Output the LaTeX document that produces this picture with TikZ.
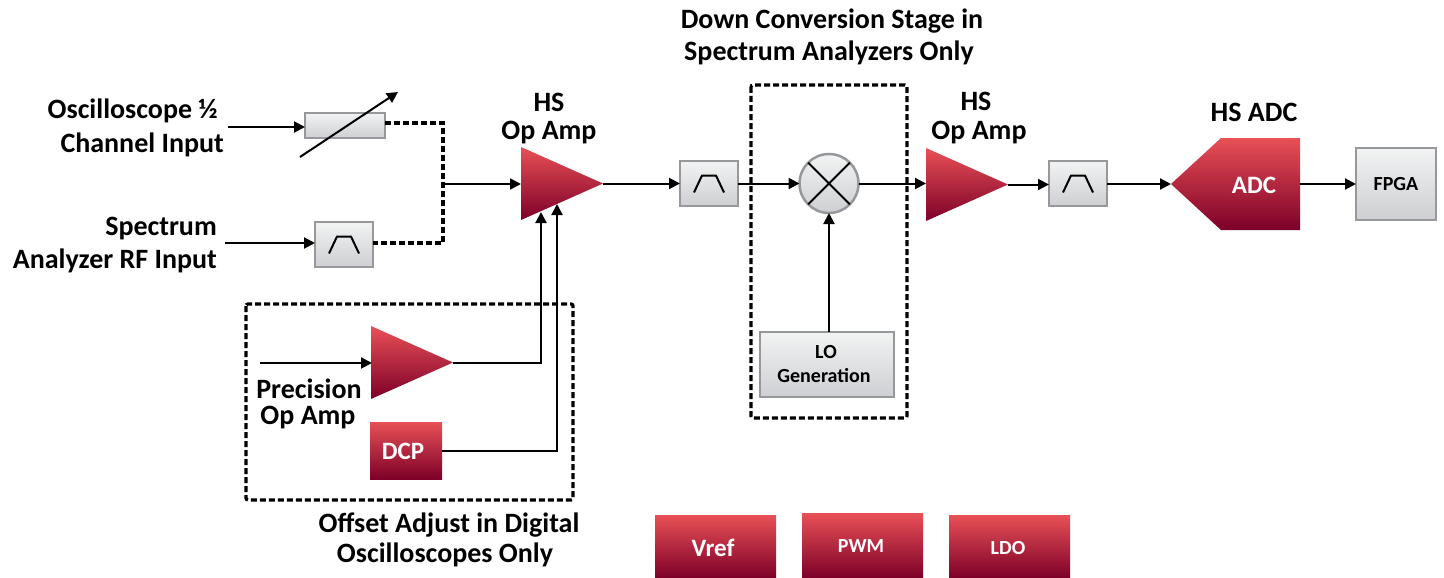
\documentclass[tikz,border=0pt]{standalone}
\usepackage{fontspec}
\setmainfont{Carlito}
\usetikzlibrary{arrows.meta,shapes.geometric}
\definecolor{redT}{RGB}{232,80,86}
\definecolor{redB}{RGB}{125,0,40}
\definecolor{grayT}{RGB}{242,243,243}
\definecolor{grayB}{RGB}{205,207,210}
\definecolor{grayE}{RGB}{150,152,156}
\tikzset{
  x=1pt,y=-1pt,
  wire/.style={line width=2pt,black},
  arr/.style={wire,-{Triangle[length=11pt,width=11pt]}},
  dashline/.style={line width=3.2pt,black,dash pattern=on 6pt off 3pt},
  dashbox/.style={dashline,rounded corners=2pt},
  label/.style={font=\fontsize{28}{32}\selectfont\bfseries,inner sep=0pt,text=black},
  smalllabel/.style={font=\fontsize{20}{24}\selectfont\bfseries,inner sep=0pt,text=black},
  whitelabel/.style={font=\fontsize{25}{29}\selectfont\bfseries,inner sep=0pt,text=white},
  whitesmall/.style={font=\fontsize{20}{24}\selectfont\bfseries,inner sep=0pt,text=white},
  graybox/.style={draw=grayE,line width=2.5pt,top color=grayT,bottom color=grayB,inner sep=0pt,outer sep=0pt},
  redbox/.style={top color=redT,bottom color=redB,inner sep=0pt,outer sep=0pt},
  redtri/.style={isosceles triangle,isosceles triangle stretches,top color=redT,bottom color=redB,
    inner sep=0pt,outer sep=0pt,minimum width=73pt,minimum height=82pt,anchor=apex},
}
\newcommand{\bpf}[1]{\draw[line width=2pt,black,line join=round]
  ([shift={(-15,9)}]#1.center) -- ([shift={(-7,-8)}]#1.center) -- ([shift={(7,-8)}]#1.center) -- ([shift={(15,9)}]#1.center);}
\begin{document}
\begin{tikzpicture}
\useasboundingbox (0,0) rectangle (1444,578);
\fill[white] (0,0) rectangle (1444,578);

% dashed regions
\draw[dashbox] (246,304) rectangle (573,500);
\draw[dashbox] (751,85) rectangle (907,418);

% gray blocks
\node[graybox,minimum width=80pt,minimum height=25pt] (att) at (345,125.5) {};
\node[graybox,minimum width=58pt,minimum height=45pt] (f1) at (344,244.5) {};
\node[graybox,minimum width=58pt,minimum height=45pt] (f2) at (709,183.5) {};
\node[graybox,minimum width=58pt,minimum height=45pt] (f3) at (1078,183.5) {};
\node[graybox,minimum width=80pt,minimum height=72pt,smalllabel] (fpga) at (1396,184) {FPGA};
\node[graybox,minimum width=134pt,minimum height=65pt] (lo) at (827,364.5) {};
\node[smalllabel] (lo1) at (826,352) {LO};
\node[smalllabel] (lo2) at (824,376) {Generation};
\bpf{f1}\bpf{f2}\bpf{f3}

% mixer
\node[graybox,circle,minimum size=59pt] (mix) at (829,183.5) {};
\draw[wire] (mix.north west) -- (mix.south east) (mix.north east) -- (mix.south west);

% amplifiers
\node[redtri] (a1) at (603,183.5) {};
\node[redtri] (a2) at (1008,184.5) {};
\node[redtri] (a3) at (453,362.5) {};
\coordinate (a1in) at (521,184);
\coordinate (a2in) at (926,183.5);
\coordinate (a3in) at (372,363);
\coordinate (a1b1) at (541,212);
\coordinate (a1b2) at (557,204);

% ADC
\shade[top color=redT,bottom color=redB] (1171,184) -- (1221,138) -- (1300,138) -- (1300,230) -- (1221,230) -- cycle;
\coordinate (adcin) at (1171,184);
\coordinate (adcout) at (1300,184);
\node[whitelabel] (adc) at (1254,185) {ADC};

% red blocks
\node[redbox,minimum width=72pt,minimum height=57pt] (dcp) at (406,450.5) {};
\node[whitelabel] (dcpt) at (403,451) {DCP};
\node[redbox,minimum width=121pt,minimum height=63pt] (vref) at (715.5,546.5) {};
\node[whitelabel] (vreft) at (713,548) {Vref};
\node[redbox,minimum width=121pt,minimum height=65pt] (pwm) at (862.5,545.5) {};
\node[whitesmall] (pwmt) at (861,546) {PWM};
\node[redbox,minimum width=121pt,minimum height=63pt] (ldo) at (1009.5,546.5) {};
\node[whitesmall] (ldot) at (1008,548) {LDO};

% free ends
\coordinate (in1) at (228,127);
\coordinate (in2) at (225,243);
\coordinate (in3) at (260,363);
\coordinate (junc) at (443,184);
\coordinate (varS) at (300,157);
\coordinate (varE) at (398,92);

% connectors
\draw[arr] (in1) -- (att.west |- in1);
\draw[arr] (in2) -- (f1.west |- in2);
\draw[arr] (varS) -- (varE);
\draw[dashline] (att.east |- 0,123) -| (junc) |- (f1.east |- 0,243);
\draw[arr] (junc) -- (a1in);
\draw[arr] (a1.apex) -- (f2.west |- a1.apex);
\draw[arr] (f2.east) -- (mix.west);
\draw[arr] (mix.east) -- (a2in);
\draw[arr] (a2.apex) -- (f3.west |- a2.apex);
\draw[arr] (f3.east |- adcin) -- (adcin);
\draw[arr] (adcout) -- (fpga.west |- adcout);
\draw[arr] (lo.north -| mix.south) -- (mix.south);
\draw[arr] (in3) -- (a3in);
\draw[arr] (a3.apex) -| (a1b1);
\draw[arr] (dcp.east) -| (a1b2);

% labels
\node[label,anchor=east] (t1) at (218,111) {Oscilloscope ½};
\node[label,anchor=east] (t2) at (224,145) {Channel Input};
\node[label,anchor=east] (t3) at (217,229) {Spectrum};
\node[label,anchor=east] (t4) at (217,261) {Analyzer RF Input};
\node[label] (t5) at (549,102) {HS};
\node[label] (t6) at (549,133) {Op Amp};
\node[label] (t7) at (976,101) {HS};
\node[label] (t8) at (979,133) {Op Amp};
\node[label] (t9) at (1254,112) {HS ADC};
\node[label] (t10) at (832,21) {Down Conversion Stage in};
\node[label] (t11) at (829,53) {Spectrum Analyzers Only};
\node[label] (t12) at (309,389) {Precision};
\node[label] (t13) at (308,418) {Op Amp};
\node[label] (t14) at (449,525) {Offset Adjust in Digital};
\node[label] (t15) at (445,555) {Oscilloscopes Only};
\end{tikzpicture}
\end{document}
